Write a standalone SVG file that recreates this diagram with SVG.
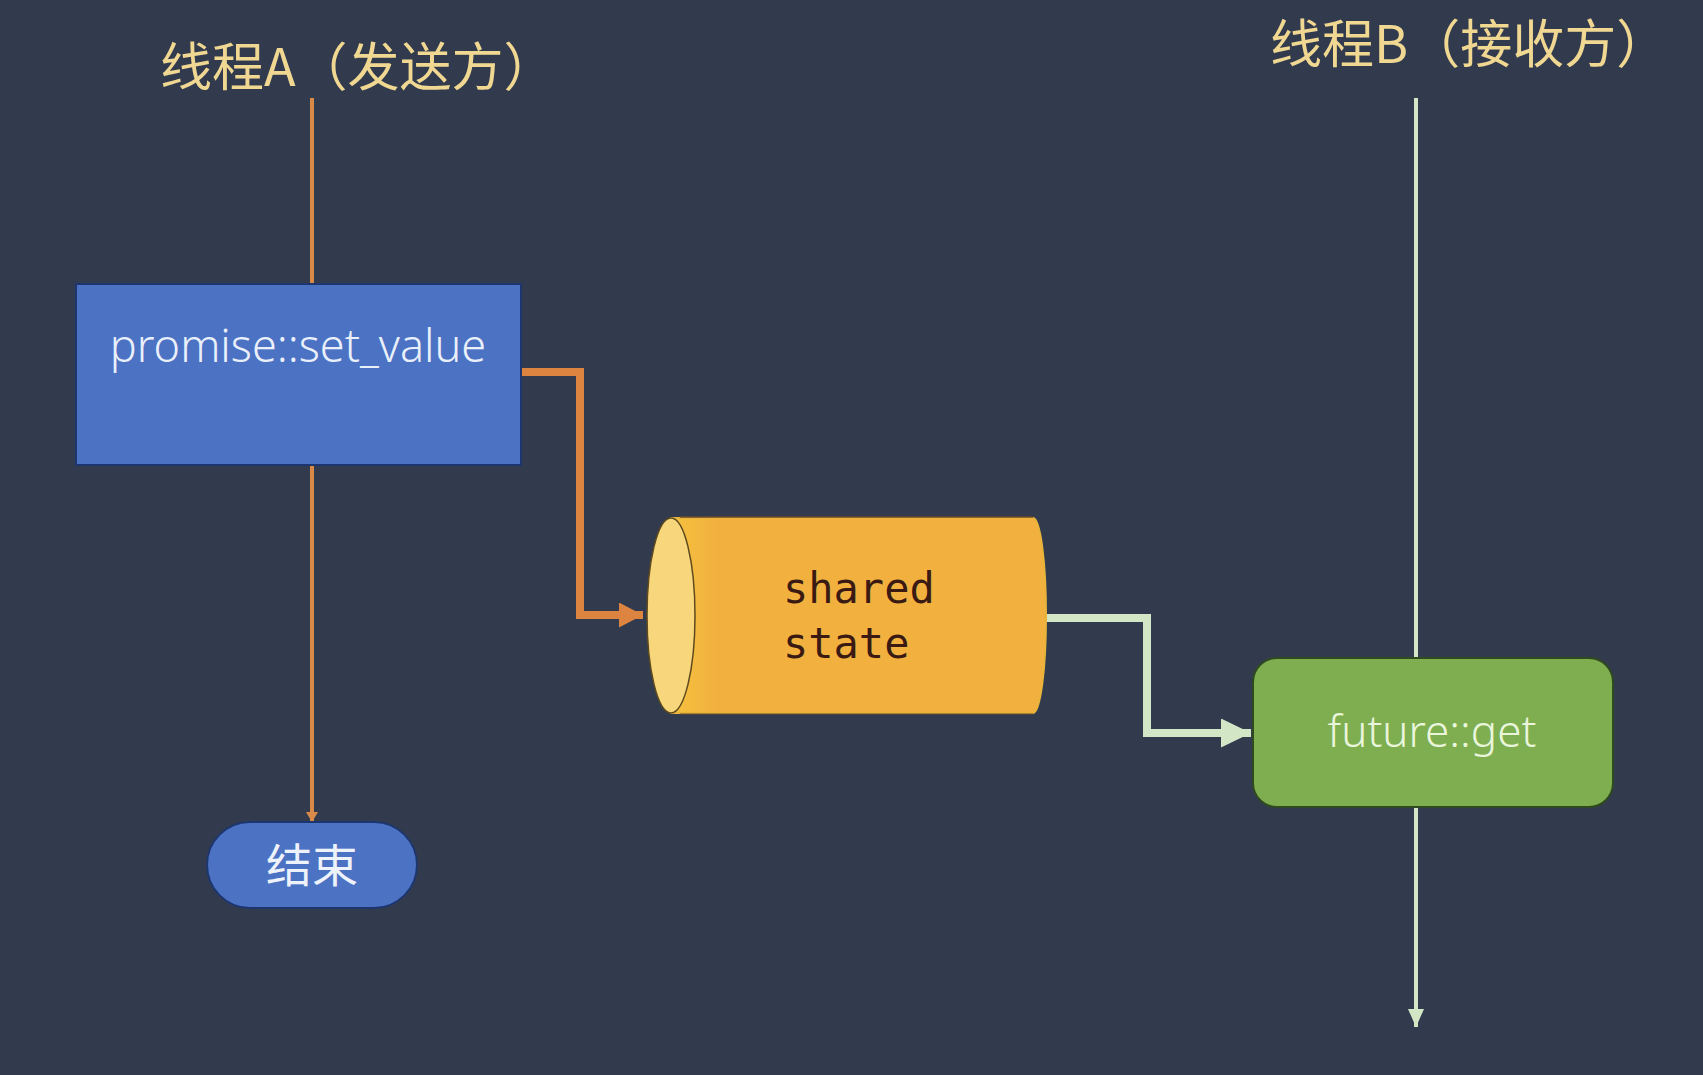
<svg xmlns="http://www.w3.org/2000/svg" width="1703" height="1075" viewBox="0 0 1703 1075">
  <style>
    .title { font-family: "Noto Sans CJK SC", "Noto Sans", sans-serif; font-size: 52px; fill: #f0d892; }
    .lbl { font-family: "Noto Sans", "Noto Sans CJK SC", sans-serif; font-weight: 300; }
    .mono { font-family: "DejaVu Sans Mono", "Liberation Mono", monospace; font-size: 42px; fill: #3a1a12; }
    .cjk { font-family: "Noto Sans CJK SC", sans-serif; font-size: 46px; fill: #eef2fa; }
  </style>
  <defs>
    <marker id="arrOrangeBig" markerUnits="userSpaceOnUse" markerWidth="25" markerHeight="26" refX="24" refY="12.5" orient="auto">
      <path d="M0,0 L24,12.5 L0,25 Z" fill="#dc8440"/>
    </marker>
    <marker id="arrOrangeSmall" markerUnits="userSpaceOnUse" markerWidth="12" markerHeight="14" refX="10" refY="6" orient="auto">
      <path d="M0,0 L10,6 L0,12 Z" fill="#d98a48"/>
    </marker>
    <marker id="arrGreenBig" markerUnits="userSpaceOnUse" markerWidth="31" markerHeight="30" refX="30" refY="14.5" orient="auto">
      <path d="M0,0 L30,14.5 L0,29 Z" fill="#d3e6c6"/>
    </marker>
    <marker id="arrGreenSmall" markerUnits="userSpaceOnUse" markerWidth="20" markerHeight="18" refX="18" refY="8" orient="auto">
      <path d="M0,0 L18,8 L0,16 Z" fill="#d3e6c6"/>
    </marker>
    <linearGradient id="cylGrad" x1="0" y1="0" x2="1" y2="0">
      <stop offset="0" stop-color="#f5c23e"/>
      <stop offset="0.12" stop-color="#f2b13f"/>
      <stop offset="1" stop-color="#f2b13f"/>
    </linearGradient>
  </defs>

  <rect x="0" y="0" width="1703" height="1075" fill="#323b4e"/>

  <g id="titleA">
    <text class="title" x="160" y="86">线程A（发送方）</text>
  </g>
  <g id="titleB">
    <text class="title" x="1270" y="63">线程B（接收方）</text>
  </g>

  <g id="connectors" fill="none">
    <line x1="312" y1="98" x2="312" y2="284" stroke="#d98a48" stroke-width="4"/>
    <line x1="312" y1="465" x2="312" y2="822" stroke="#d98a48" stroke-width="4" marker-end="url(#arrOrangeSmall)"/>
    <path d="M521,372 H580 V615 H643" stroke="#dc8440" stroke-width="8" marker-end="url(#arrOrangeBig)"/>
    <path d="M1045,618 H1147 V733 H1251" stroke="#d3e6c6" stroke-width="8" marker-end="url(#arrGreenBig)"/>
    <line x1="1416" y1="98" x2="1416" y2="658" stroke="#d3e6c6" stroke-width="4"/>
    <line x1="1416" y1="807" x2="1416" y2="1027" stroke="#d3e6c6" stroke-width="4" marker-end="url(#arrGreenSmall)"/>
  </g>

  <g id="promise">
    <rect x="76" y="284" width="445" height="181" fill="#4c72c4" stroke="#1e3670" stroke-width="2"/>
    <text class="lbl" x="298" y="362" text-anchor="middle" fill="#eaf0fa" font-size="45">promise::set_value</text>
  </g>

  <g id="sharedState">
    <path d="M671,518 L1033,518 A13,97.5 0 0 1 1033,713 L671,713 Z" fill="url(#cylGrad)" stroke="#e9b43a" stroke-width="2"/>
    <line x1="680" y1="517" x2="1033" y2="517" stroke="#6a4a2c" stroke-width="1.5"/>
    <line x1="680" y1="714" x2="1033" y2="714" stroke="#6a4a2c" stroke-width="1"/>
    <ellipse cx="671" cy="615.5" rx="24" ry="97.5" fill="#f8d77c" stroke="#5e4a1e" stroke-width="1.5"/>
    <text class="mono" x="783" y="603">shared</text>
    <text class="mono" x="783" y="658">state</text>
  </g>

  <g id="futureGet">
    <rect x="1253" y="658" width="360" height="149" rx="24" ry="24" fill="#7eae50" stroke="#2f4a1e" stroke-width="2"/>
    <text class="lbl" x="1432" y="747" text-anchor="middle" fill="#eaf6dc" font-size="44">future::get</text>
  </g>

  <g id="end">
    <rect x="207" y="822" width="210" height="86" rx="43" ry="43" fill="#4c72c4" stroke="#1e3670" stroke-width="2"/>
    <text class="cjk" x="312" y="882" text-anchor="middle">结束</text>
  </g>
</svg>
